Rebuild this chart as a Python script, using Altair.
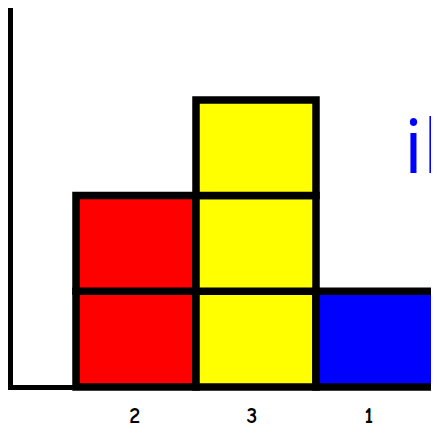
import altair as alt
import pandas as pd

# Data
labels = ["2", "3", "1"]          # tick labels under each column
counts = [2, 3, 1]                # number of stacked squares per column
colors = ["#ff0000", "#ffff00", "#0000ff"]
note_text = "il"

cells = []
for i, (lab, n, c) in enumerate(zip(labels, counts, colors)):
    for lvl in range(n):
        cells.append({"col": i, "col2": i + 1, "lvl": lvl, "lvl2": lvl + 1, "color": c})
cells_df = pd.DataFrame(cells)
lab_df = pd.DataFrame({"idx": list(range(len(labels))), "label": labels})
note_df = pd.DataFrame({"t": [note_text]})
one = pd.DataFrame({"a": [0]})

W, H = 423, 421
X0, CW = 68, 120      # chart-px of column 0 left edge, column width
Y0, RH = 379, 95.7    # chart-px of baseline, row height
xs = alt.Scale(domain=[-X0 / CW, (W - X0) / CW], nice=False, zero=False)
ys = alt.Scale(domain=[-(H - Y0) / RH, Y0 / RH], nice=False, zero=False)

rects = alt.Chart(cells_df).mark_rect(stroke="black", strokeWidth=7.5).encode(
    x=alt.X("col:Q", scale=xs, axis=None),
    x2="col2:Q",
    y=alt.Y("lvl:Q", scale=ys, axis=None),
    y2="lvl2:Q",
    fill=alt.Fill("color:N", scale=None),
)

labs = alt.Chart(lab_df).transform_calculate(
    lx="0.49 + 0.975 * datum.idx", ly=str((Y0 - 408) / RH)
).mark_text(
    font="Comic Sans MS, Comic Neue, DejaVu Sans", fontWeight="bold", fontSize=22,
    baseline="middle", align="center", color="black"
).encode(
    x=alt.X("lx:Q", scale=xs, axis=None),
    y=alt.Y("ly:Q", scale=ys, axis=None),
    text="label:N",
)

note = alt.Chart(note_df).transform_calculate(
    nx=str((396 - X0) / CW), ny=str((Y0 - 165) / RH)
).mark_text(
    font="Open Sans", fontSize=75, color="#0000ff",
    align="left", baseline="alphabetic"
).encode(
    x=alt.X("nx:Q", scale=xs, axis=None),
    y=alt.Y("ny:Q", scale=ys, axis=None),
    text="t:N",
)

vline = alt.Chart(one).mark_rule(color="black", strokeWidth=5).encode(
    x=alt.value(2.5), y=alt.value(0), y2=alt.value(381.5)
)
hline = alt.Chart(one).mark_rule(color="black", strokeWidth=5).encode(
    x=alt.value(0), x2=alt.value(72), y=alt.value(379.5)
)

chart = alt.layer(vline, hline, rects, labs, note).properties(
    width=W, height=H, padding=0,
    autosize=alt.AutoSizeParams(type="none"),
).configure_view(stroke=None)

chart.save("out.html", embed_options={"renderer": "svg", "actions": False})
